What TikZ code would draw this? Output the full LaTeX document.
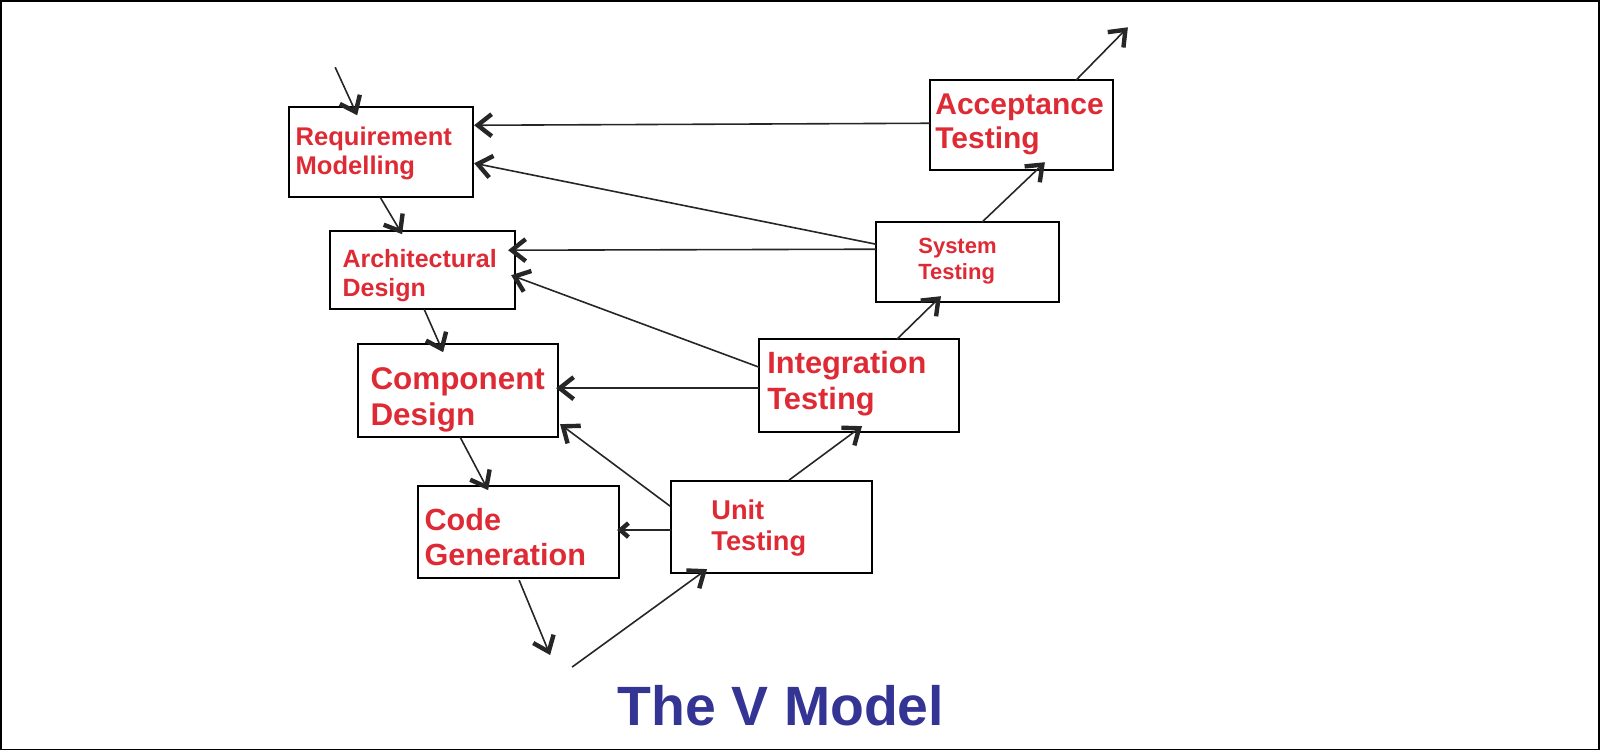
\documentclass[tikz,border=0pt]{standalone}
\usepackage{fontspec}
\setmainfont{Liberation Sans}
\usetikzlibrary{arrows.meta}
\definecolor{vred}{RGB}{222,42,52}
\definecolor{vblue}{RGB}{52,52,148}
\begin{document}
\begin{tikzpicture}[x=0.5pt,y=-0.5pt,
  lbl/.style={text=vred,font=\bfseries,align=left,anchor=north west,inner sep=0},
  con/.style={draw=black!85,line width=0.8pt,-{Straight Barb[length=7pt,width=11pt,line width=2.2pt]}},
  small/.style={-{Straight Barb[length=4pt,width=7pt,line width=2.2pt]}}]
\draw[line width=0.8pt] (0.5,0.5) rectangle (1599.5,749.5);
\useasboundingbox (0,0) rectangle (1600,750);
% boxes
\draw[line width=0.8pt] (289,107) rectangle (473,197);
\draw[line width=0.8pt] (330,231) rectangle (515,309);
\draw[line width=0.8pt] (358,344) rectangle (558,437);
\draw[line width=0.8pt] (418,486) rectangle (619,578);
\draw[line width=0.8pt] (671,481) rectangle (872,573);
\draw[line width=0.8pt] (759,339) rectangle (959,432);
\draw[line width=0.8pt] (876,222) rectangle (1059,302);
\draw[line width=0.8pt] (930,80) rectangle (1113,170);
% labels
\node[lbl,font=\fontsize{12.8}{14.8}\selectfont\bfseries] (req) at (295,126) {Requirement\\Modelling};
\node[lbl,font=\fontsize{12.5}{14.5}\selectfont\bfseries] (arc) at (342,249) {Architectural\\Design};
\node[lbl,font=\fontsize{15.7}{18}\selectfont\bfseries] (cmp) at (370,367) {Component\\Design};
\node[lbl,font=\fontsize{15.3}{17.5}\selectfont\bfseries] (cod) at (424,508) {Code\\Generation};
\node[lbl,font=\fontsize{13.6}{15.6}\selectfont\bfseries] (uni) at (711,499) {Unit\\Testing};
\node[lbl,font=\fontsize{15.4}{17.6}\selectfont\bfseries] (int) at (767,351) {Integration\\Testing};
\node[lbl,font=\fontsize{11}{13}\selectfont\bfseries] (sys) at (918,238) {System\\Testing};
\node[lbl,font=\fontsize{15}{17.2}\selectfont\bfseries] (acc) at (935,93) {Acceptance\\Testing};
\node[text=vblue,font=\fontsize{27.7}{30}\selectfont\bfseries] (title) at (781,706) {The V Model};
% connector end points
\coordinate (s0) at (335,67);  \coordinate (e0) at (357,115);
\coordinate (s1) at (380,197); \coordinate (e1) at (402,234);
\coordinate (s2) at (424,309); \coordinate (e2) at (443,352);
\coordinate (s3) at (460,437); \coordinate (e3) at (488,490);
\coordinate (s4) at (519,580); \coordinate (e4) at (550,655);
\coordinate (s5) at (572,667); \coordinate (e5) at (707,569);
\coordinate (s6) at (671,530); \coordinate (e6) at (617,530);
\coordinate (s7) at (670,506); \coordinate (e7) at (560,424);
\coordinate (s8) at (789,480); \coordinate (e8) at (862,426);
\coordinate (s9) at (759,388); \coordinate (e9) at (556,388);
\coordinate (s10) at (759,367); \coordinate (e10) at (511,275);
\coordinate (s11) at (897,339); \coordinate (e11) at (941,296);
\coordinate (s12) at (876,249); \coordinate (e12) at (508,250);
\coordinate (s13) at (876,244); \coordinate (e13) at (474,163);
\coordinate (s14) at (982,222); \coordinate (e14) at (1045,162);
\coordinate (s15) at (930,123); \coordinate (e15) at (474,125);
\coordinate (s16) at (1076,80); \coordinate (e16) at (1128,27);
\foreach \i in {0,1,2,3,4,5,7,8,9,10,11,12,13,14,15,16}
  \draw[con] (s\i) -- (e\i);
\draw[con,small] (s6) -- (e6);
\end{tikzpicture}
\end{document}
